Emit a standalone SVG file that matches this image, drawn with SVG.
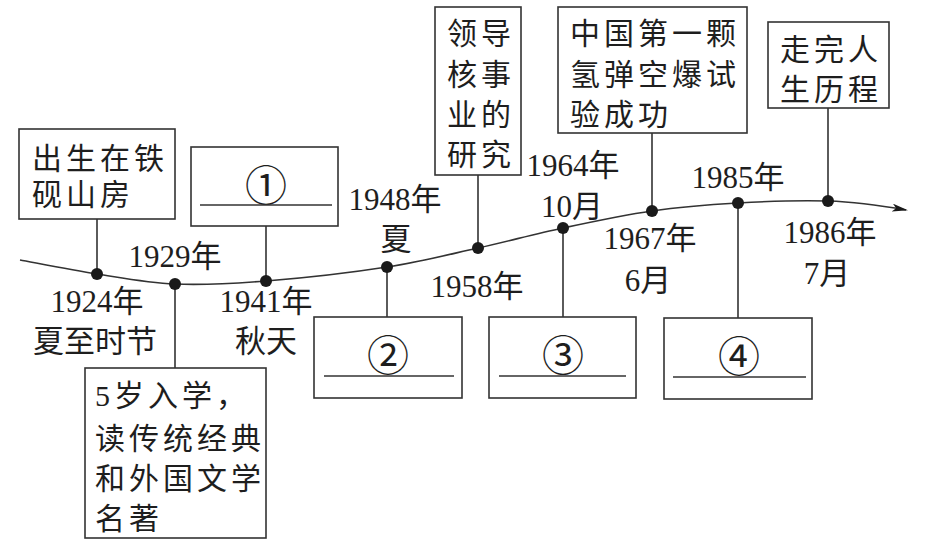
<svg xmlns="http://www.w3.org/2000/svg" width="926" height="540" viewBox="0 0 926 540">
<style>
text{font-family:"Liberation Serif","Noto Sans CJK SC",serif;font-size:30px;fill:#1e1e1e}
.c{text-anchor:middle;font-size:31px}
.b{letter-spacing:4px}
.box{fill:none;stroke:#333;stroke-width:1.6}
.ln{stroke:#333;stroke-width:1.6;fill:none}
.dot{fill:#1a1a1a}
.num{font-family:"Noto Sans CJK SC","DejaVu Sans",sans-serif;font-size:42px;text-anchor:middle}
</style>
<defs>
<marker id="arr" viewBox="0 0 16 8" refX="14" refY="4" markerWidth="16" markerHeight="8" markerUnits="userSpaceOnUse" orient="auto">
<path d="M0,0 L16,4 L0,8 L4,4 Z" fill="#1a1a1a"/>
</marker>
</defs>
<rect width="926" height="540" fill="#fff"/>
<g id="connectors">
<path class="ln" marker-end="url(#arr)" d="M20,260 C32.8,262.3 71.2,270 97,274 C122.8,278 146.8,282.8 175,284 C203.2,285.2 230.7,283.8 266,281 C301.3,278.2 351.7,272.5 387,267 C422.3,261.5 448.7,254.5 478,248 C507.3,241.5 534,234.2 563,228 C592,221.8 622.8,215.2 652,211 C681.2,206.8 708.7,204.7 738,203 C767.3,201.3 801,200.2 828,201 C855,201.8 888,206.8 906,210"/>
<line class="ln" x1="97" y1="219" x2="97" y2="274"/>
<line class="ln" x1="175" y1="284" x2="175" y2="368"/>
<line class="ln" x1="266" y1="226" x2="266" y2="281"/>
<line class="ln" x1="387" y1="267" x2="387" y2="317"/>
<line class="ln" x1="478" y1="175" x2="478" y2="248"/>
<line class="ln" x1="563" y1="228" x2="563" y2="317"/>
<line class="ln" x1="652" y1="133" x2="652" y2="211"/>
<line class="ln" x1="738" y1="203" x2="738" y2="318"/>
<line class="ln" x1="828" y1="108" x2="828" y2="201"/>
</g>
<g id="dots">
<circle class="dot" cx="97" cy="274" r="6"/>
<circle class="dot" cx="175" cy="284" r="6"/>
<circle class="dot" cx="266" cy="281" r="6"/>
<circle class="dot" cx="387" cy="267" r="6"/>
<circle class="dot" cx="478" cy="248" r="6"/>
<circle class="dot" cx="563" cy="228" r="6"/>
<circle class="dot" cx="652" cy="211" r="6"/>
<circle class="dot" cx="738" cy="203" r="6"/>
<circle class="dot" cx="828" cy="201" r="6"/>
</g>
<g id="labels">
<text class="c" x="97" y="312">1924年</text>
<text class="c" x="95" y="352">夏至时节</text>
<text class="c" x="175" y="267">1929年</text>
<text class="c" x="266" y="312">1941年</text>
<text class="c" x="266" y="352">秋天</text>
<text class="c" x="395" y="210">1948年</text>
<text class="c" x="396" y="250">夏</text>
<text class="c" x="477" y="297">1958年</text>
<text class="c" x="573" y="176">1964年</text>
<text class="c" x="572" y="217">10月</text>
<text class="c" x="650" y="249">1967年</text>
<text class="c" x="648" y="291">6月</text>
<text class="c" x="738" y="188">1985年</text>
<text class="c" x="830" y="243">1986年</text>
<text class="c" x="827" y="284">7月</text>
</g>
<g id="n1924">
<rect class="box" x="19" y="129" width="156" height="90"/>
<text class="b" x="32" y="169">出生在铁</text>
<text class="b" x="32" y="205">砚山房</text>
</g>
<g id="n1929">
<rect class="box" x="85" y="368" width="181" height="170"/>
<text class="b" x="95" y="406">5岁入学，</text>
<text class="b" x="95" y="449">读传统经典</text>
<text class="b" x="95" y="489">和外国文学</text>
<text class="b" x="95" y="529">名著</text>
</g>
<g id="n1941">
<rect class="box" x="191" y="147" width="147" height="79"/>
<text class="num" x="266" y="201">①</text>
<line class="ln" x1="200" y1="205" x2="332" y2="205"/>
</g>
<g id="n1948">
<rect class="box" x="314" y="317" width="148" height="81"/>
<text class="num" x="388" y="371">②</text>
<line class="ln" x1="324" y1="376" x2="454" y2="376"/>
</g>
<g id="n1958">
<rect class="box" x="435" y="7" width="86" height="168"/>
<text class="b" x="447" y="44">领导</text>
<text class="b" x="447" y="85">核事</text>
<text class="b" x="447" y="125">业的</text>
<text class="b" x="447" y="165">研究</text>
</g>
<g id="n1964">
<rect class="box" x="489" y="317" width="147" height="81"/>
<text class="num" x="563" y="371">③</text>
<line class="ln" x1="499" y1="376" x2="626" y2="376"/>
</g>
<g id="n1967">
<rect class="box" x="558" y="7" width="189" height="126"/>
<text class="b" x="570" y="44">中国第一颗</text>
<text class="b" x="570" y="85">氢弹空爆试</text>
<text class="b" x="570" y="125">验成功</text>
</g>
<g id="n1985">
<rect class="box" x="664" y="318" width="148" height="81"/>
<text class="num" x="739" y="372">④</text>
<line class="ln" x1="673" y1="377" x2="806" y2="377"/>
</g>
<g id="n1986">
<rect class="box" x="768" y="22" width="121" height="86"/>
<text class="b" x="780" y="60">走完人</text>
<text class="b" x="780" y="100">生历程</text>
</g>
</svg>
